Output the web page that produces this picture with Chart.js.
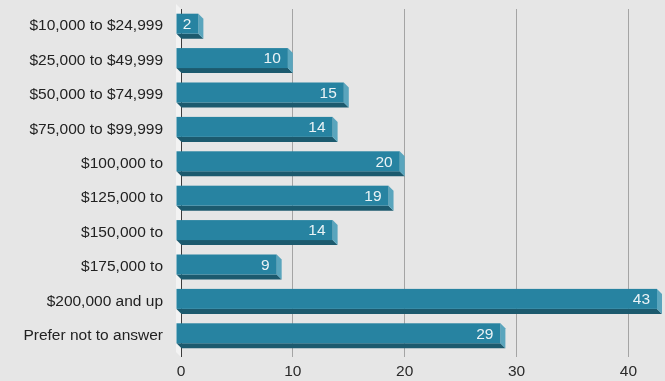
<!DOCTYPE html>
<html>
<head>
<meta charset="utf-8">
<script src="https://cdn.jsdelivr.net/npm/chart.js@4.4.1/dist/chart.umd.min.js"></script>
<style>
  html, body { margin: 0; padding: 0; background: #e6e6e6; }
  #wrap { width: 665px; height: 381px; position: relative; }
</style>
</head>
<body>
<div id="wrap"><canvas id="incomeChart"></canvas></div>
<script>
// Data
const incomeLabels = [
    '$10,000 to $24,999',
    '$25,000 to $49,999',
    '$50,000 to $74,999',
    '$75,000 to $99,999',
    '$100,000 to',
    '$125,000 to',
    '$150,000 to',
    '$175,000 to',
    '$200,000 and up',
    'Prefer not to answer'
];
const incomeCounts = [2, 10, 15, 14, 20, 19, 14, 9, 43, 29];
const xTicks = [0, 10, 20, 30, 40];

const DEPTH = 5;
const FONT = '"Liberation Sans", Arial, sans-serif';

// Draws the back wall + the 3d bars (front, bottom, right face) and the value labels
const bars3d = {
    id: 'bars3d',
    beforeDatasetsDraw(chart) {
        const { ctx, chartArea, scales } = chart;
        const x0 = scales.x.getPixelForValue(0);
        ctx.save();
        ctx.fillStyle = '#f3f3f3';
        ctx.beginPath();
        ctx.moveTo(x0 - DEPTH, chartArea.top - DEPTH);
        ctx.lineTo(x0, chartArea.top);
        ctx.lineTo(x0, chartArea.bottom + 4);
        ctx.lineTo(x0 - DEPTH, chartArea.bottom + 4 - DEPTH);
        ctx.closePath();
        ctx.fill();
        ctx.restore();
    },
    afterDatasetsDraw(chart) {
        const { ctx } = chart;
        const meta = chart.getDatasetMeta(0);
        ctx.save();
        meta.data.forEach((bar, i) => {
            const top = bar.y - bar.height / 2;
            const bot = bar.y + bar.height / 2;
            const fx0 = bar.base - DEPTH;
            const fx1 = bar.x - DEPTH;
            const fbot = bot - DEPTH;

            // bottom face
            ctx.fillStyle = '#1c5a6e';
            ctx.beginPath();
            ctx.moveTo(fx0, fbot);
            ctx.lineTo(fx1, fbot);
            ctx.lineTo(bar.x, bot);
            ctx.lineTo(bar.base, bot);
            ctx.closePath();
            ctx.fill();

            // right face
            ctx.fillStyle = '#5aa5bd';
            ctx.beginPath();
            ctx.moveTo(fx1, top);
            ctx.lineTo(bar.x, top + DEPTH);
            ctx.lineTo(bar.x, bot);
            ctx.lineTo(fx1, fbot);
            ctx.closePath();
            ctx.fill();

            // front face
            ctx.fillStyle = '#2783a1';
            ctx.fillRect(fx0, top, fx1 - fx0, fbot - top);

            // value
            ctx.fillStyle = '#eaf3f6';
            ctx.font = '15.5px ' + FONT;
            ctx.textAlign = 'right';
            ctx.textBaseline = 'middle';
            ctx.fillText(String(incomeCounts[i]), fx1 - 7, top + (fbot - top) / 2 + 1);
        });
        ctx.restore();
    }
};

const ctx = document.getElementById('incomeChart').getContext('2d');
new Chart(ctx, {
    type: 'bar',
    data: {
        labels: incomeLabels,
        datasets: [{
            data: incomeCounts,
            backgroundColor: 'rgba(0,0,0,0)',
            borderWidth: 0,
            barPercentage: 1,
            categoryPercentage: 0.727
        }]
    },
    options: {
        indexAxis: 'y',
        responsive: true,
        maintainAspectRatio: false,
        animation: false,
        layout: {
            padding: { top: 9, right: 3, left: 0, bottom: 0 }
        },
        plugins: {
            legend: { display: false },
            tooltip: { enabled: false }
        },
        scales: {
            x: {
                min: 0,
                max: 43,
                afterBuildTicks: (scale) => {
                    scale.ticks = xTicks.map(v => ({ value: v }));
                },
                afterFit: (scale) => {
                    scale.height = 28;
                    scale.paddingLeft = 0;
                    scale.paddingRight = 0;
                },
                border: { display: false },
                grid: {
                    color: (c) => c.tick && c.tick.value === 0 ? '#3c3c3c' : '#a4a4a4',
                    lineWidth: 1,
                    tickLength: 4
                },
                ticks: {
                    color: '#2a2a2a',
                    padding: 5,
                    font: { family: FONT, size: 15.5 }
                }
            },
            y: {
                afterFit: (scale) => {
                    scale.width = 181;
                    scale.paddingTop = 0;
                    scale.paddingBottom = 0;
                },
                border: { display: false },
                grid: { display: false, drawTicks: false },
                ticks: {
                    color: '#222222',
                    padding: 18,
                    font: { family: FONT, size: 15.5 }
                }
            }
        }
    },
    plugins: [bars3d]
});
</script>
</body>
</html>
